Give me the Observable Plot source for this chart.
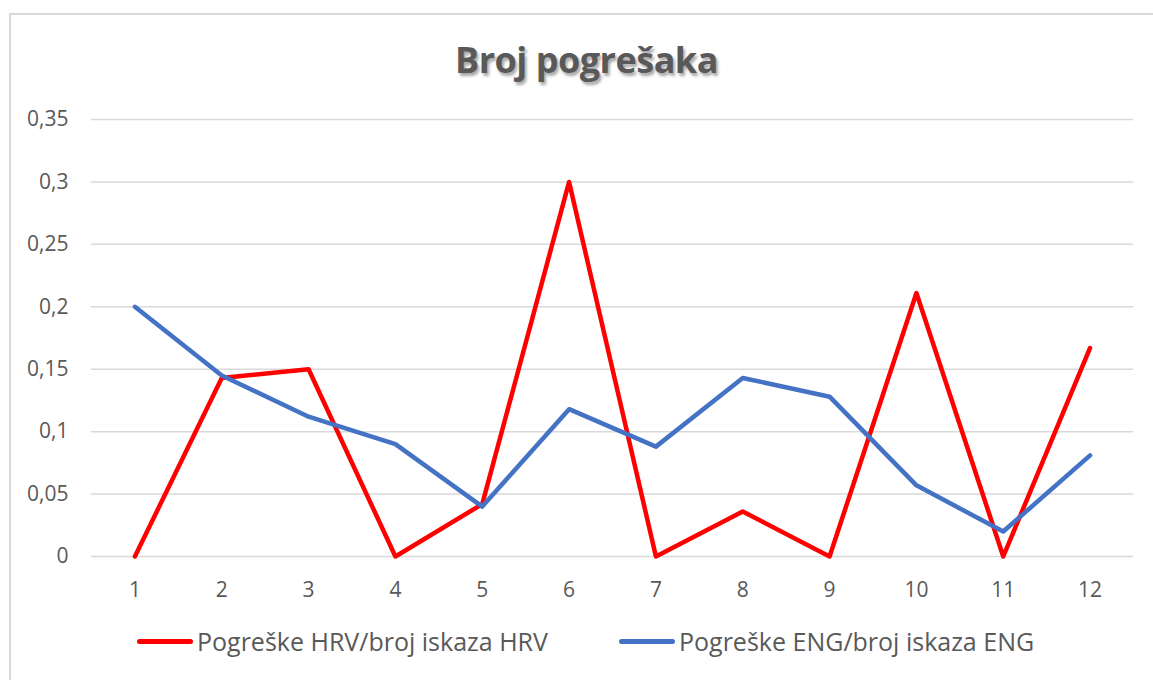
<!DOCTYPE html>
<html>
<head>
<meta charset="utf-8">
<script src="https://cdn.jsdelivr.net/npm/d3@7"></script>
<script src="https://cdn.jsdelivr.net/npm/@observablehq/plot@0.6"></script>
<style>
  body { margin: 0; width: 1153px; height: 680px; overflow: hidden; background: #fff; font-family: "Open Sans", Lato, sans-serif; position: relative; }
  #frame { position: absolute; left: 9px; top: 13px; width: 1160px; height: 700px; border: 2px solid #d9d9d9; box-sizing: border-box; }
  #title { position: absolute; left: 0; width: 1173px; top: 35px; text-align: center; font-size: 36px; font-weight: bold; color: #595959; text-shadow: 2px 3px 3px rgba(0,0,0,0.35); letter-spacing: -0.5px; }
  #chart { position: absolute; left: 0; top: 100px; }
  .leg { position: absolute; top: 624px; font-size: 25px; color: #595959; display: flex; align-items: center; white-space: nowrap; }
  .leg span.sw { display: inline-block; height: 5px; border-radius: 3px; margin-right: 4px; }
</style>
</head>
<body>
<div id="frame"></div>
<div id="title">Broj pogrešaka</div>
<div id="chart"></div>
<div class="leg" style="left:137px"><span class="sw" style="width:56px;background:#ff0000"></span>Pogreške HRV/broj iskaza HRV</div>
<div class="leg" style="left:619px"><span class="sw" style="width:56px;background:#4472c4"></span>Pogreške ENG/broj iskaza ENG</div>
<script>
const categories = ["1","2","3","4","5","6","7","8","9","10","11","12"];
const hrv = [0, 0.143, 0.15, 0, 0.042, 0.3, 0, 0.036, 0, 0.211, 0, 0.167];
const eng = [0.2, 0.145, 0.112, 0.09, 0.04, 0.118, 0.088, 0.143, 0.128, 0.057, 0.02, 0.081];
const yTicks = [0, 0.05, 0.1, 0.15, 0.2, 0.25, 0.3, 0.35];
const seriesNames = ["Pogreške HRV/broj iskaza HRV", "Pogreške ENG/broj iskaza ENG"];

const rows = [];
categories.forEach((c, i) => {
  rows.push({cat: c, value: hrv[i], series: seriesNames[0]});
});
categories.forEach((c, i) => {
  rows.push({cat: c, value: eng[i], series: seriesNames[1]});
});

const fmt = d => String(d).replace(".", ",");

const plot = Plot.plot({
  width: 1153,
  height: 500,
  marginLeft: 91,
  marginRight: 20,
  marginTop: 19,
  marginBottom: 44,
  style: {fontFamily: "'Open Sans', Lato, sans-serif", fontSize: "21px", color: "#595959", background: "transparent", overflow: "visible"},
  x: {type: "point", domain: categories, padding: 0.5, round: false, label: null},
  y: {domain: [0, 0.35], label: null},
  color: {domain: seriesNames, range: ["#ff0000", "#4472c4"]},
  marks: [
    Plot.ruleY(yTicks, {stroke: "#d9d9d9", strokeWidth: 1.5}),
    Plot.axisY(yTicks, {tickSize: 0, tickPadding: 23, tickFormat: fmt, fill: "#595959", fontSize: 21}),
    Plot.axisX({tickSize: 0, tickPadding: 26, fill: "#595959", fontSize: 21}),
    Plot.line(rows, {x: "cat", y: "value", z: "series", stroke: "series", strokeWidth: 4.5, strokeLinejoin: "round", strokeLinecap: "round"})
  ]
});
document.getElementById("chart").appendChild(plot);
</script>
</body>
</html>
